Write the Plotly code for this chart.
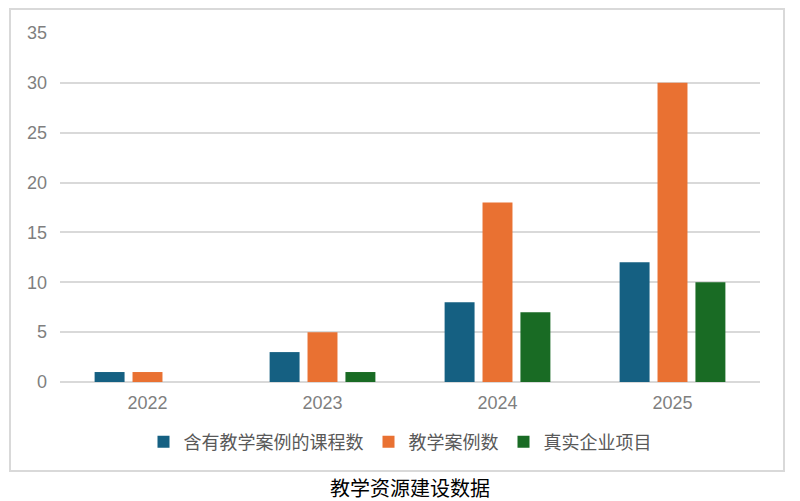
import plotly.graph_objects as go

years = ["2022", "2023", "2024", "2025"]
courses_with_cases = [1, 3, 8, 12]
teaching_cases = [1, 5, 18, 30]
enterprise_projects = [0, 1, 7, 10]
series_names = ["含有教学案例的课程数", "教学案例数", "真实企业项目"]
colors = ["#156082", "#E97132", "#196B24"]

# the page body adds an 8px offset, so the figure is 8px smaller
W, H = 792, 493
L, R, T, B = 52, 40, 25, 119
pw, ph = W - L - R, H - T - B

def px_x(p):  # reference pixel -> paper x
    return (p - 8 - L) / pw

def px_y(p):  # reference pixel -> paper y
    return (H - B - (p - 8)) / ph

fig = go.Figure()
for name, vals, c in zip(series_names, [courses_with_cases, teaching_cases, enterprise_projects], colors):
    fig.add_trace(go.Bar(x=years, y=vals, name=name, marker=dict(color=c, line=dict(width=0))))

fig.update_layout(
    width=W, height=H,
    margin=dict(l=L, r=R, t=T, b=B),
    paper_bgcolor="white", plot_bgcolor="white",
    barmode="group", bargap=0.35, bargroupgap=0.21,
    font=dict(family="Liberation Sans, Noto Sans CJK SC", color="#7f7f7f", size=18),
    xaxis=dict(showgrid=False, showline=False, ticks="", tickfont=dict(size=18, color="#7f7f7f"),
               ticklabelstandoff=8),
    yaxis=dict(range=[0, 35], dtick=5, showgrid=True, gridcolor="#d9d9d9", gridwidth=2,
               zeroline=True, zerolinecolor="#d9d9d9", zerolinewidth=2,
               ticks="", tickfont=dict(size=18, color="#7f7f7f"), ticklabelstandoff=12),
    legend=dict(orientation="h", x=px_x(400), xanchor="center", y=px_y(442), yanchor="middle",
                font=dict(family="Noto Sans CJK SC", size=18, color="#595959"),
                itemwidth=30, traceorder="normal", itemclick=False),
    showlegend=True,
)

fig.add_shape(type="rect", xref="paper", yref="paper",
              x0=px_x(10), x1=px_x(784), y0=px_y(471), y1=px_y(9),
              line=dict(color="#d9d9d9", width=2), fillcolor="rgba(0,0,0,0)", layer="below")

fig.add_annotation(text="教学资源建设数据", xref="paper", yref="paper",
                   x=px_x(410), y=px_y(487), xanchor="center", yanchor="middle",
                   showarrow=False, borderpad=0,
                   font=dict(family="Noto Sans CJK SC", size=20, color="#000000"))

fig.write_html("out.html")
